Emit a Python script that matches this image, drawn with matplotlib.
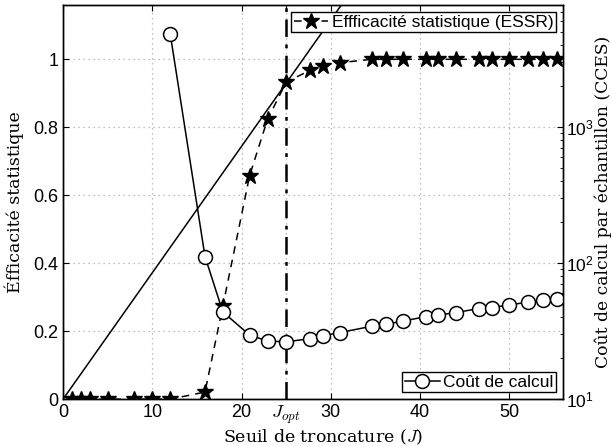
import numpy as np
import matplotlib.pyplot as plt

plt.rcParams['mathtext.fontset'] = 'cm'
plt.rcParams['font.family'] = ['Liberation Sans', 'DejaVu Sans']

# seuils de troncature
J_ess = [1, 2, 3, 5, 8, 10, 12, 15.9, 17.9, 20.9, 22.9, 25, 27.7, 29.1, 31,
         34.6, 36.2, 38.1, 40.7, 42, 44, 46.6, 48, 50, 52.1, 53.8, 55.3]
essr = [0.0, 0.0, 0.0, 0.0, 0.0, 0.0, 0.0, 0.021, 0.274, 0.658, 0.823, 0.933,
        0.968, 0.98, 0.99, 1.0, 1.0, 1.0, 1.0, 1.0, 1.0, 1.0, 1.0, 1.0, 1.0,
        1.0, 1.0]

J_cout = [12, 15.9, 17.9, 20.9, 22.9, 25, 27.7, 29.1, 31, 34.6, 36.2, 38.1,
          40.7, 42, 44, 46.6, 48, 50, 52.1, 53.8, 55.3]
cces = [4887, 112, 43.8, 29.6, 26.8, 26.4, 27.9, 29.2, 30.9, 34.4, 35.6, 37.6,
        40.5, 41.5, 43.4, 46.4, 47.2, 49.4, 51.7, 53.2, 54.3]

# droite de reference
J_ref = [0, 31.5]
ref = [0, 1.172]

J_opt = 25

fig = plt.figure(figsize=(6.12, 4.46), dpi=100)
ax = fig.add_axes([0.103, 0.105, 0.817, 0.884])
ax2 = ax.twinx()

ax.plot(J_ref, ref, '-', color='k', lw=1.1)
ax.axvline(J_opt, color='k', lw=1.8, dashes=(7, 3, 1.5, 3))
l1, = ax.plot(J_ess, essr, color='k', lw=1.1, dashes=(5, 4), marker='*',
              ms=12, mfc='k', mec='k', label='Effficacité statistique (ESSR)')

l2, = ax2.plot(J_cout, cces, '-', color='k', lw=1.1, marker='o', ms=10,
               mfc='w', mec='k', mew=1.1, label='Coût de calcul')

ax.set_xlim(0, 56)
ax.set_ylim(0, 1.16)
ax2.set_yscale('log')
ax2.set_ylim(10, 10 ** 3.9)

ax.set_xticks([0, 10, 20, 25, 30, 40, 50])
ax.set_xticklabels(['0', '10', '20', r'$J_{opt}$', '30', '40', '50'])
ax.set_yticks([0, 0.2, 0.4, 0.6, 0.8, 1.0])
ax.set_yticklabels(['0', '0.2', '0.4', '0.6', '0.8', '1'])
ax.grid(True, color='#aaaaaa', lw=0.9, dashes=(1, 3))

ax.tick_params(direction='in', labelsize=13, top=True, right=False, length=4)
ax.get_xticklabels()[3].set_fontsize(13.5)
ax2.tick_params(which='both', direction='in', labelsize=12.5, length=4, pad=2)
ax2.tick_params(which='minor', length=2.5)

ax.set_xlabel(r'Seuil de troncature ($J$)', family='DejaVu Serif',
              fontsize=12.5)
ax.xaxis.set_label_coords(0.52, -0.073)
ax.set_ylabel('Éfficacité statistique', family='DejaVu Serif', fontsize=12.5)
ax.yaxis.set_label_coords(-0.078, 0.5)
ax2.set_ylabel('Coût de calcul par échantillon (CCES)', family='DejaVu Serif',
               fontsize=12.3)
ax2.yaxis.set_label_coords(1.063, 0.5)

leg1 = ax.legend(handles=[l1], loc='upper right', fontsize=12.5,
                 handlelength=2.0, handletextpad=0.2, borderpad=0.15,
                 borderaxespad=0.4, fancybox=False, framealpha=1,
                 edgecolor='k')
leg1.get_frame().set_linewidth(1.0)
leg2 = ax2.legend(handles=[l2], loc='lower right', fontsize=12.5,
                  handlelength=2.0, handletextpad=0.2, borderpad=0.15,
                  borderaxespad=0.4, fancybox=False, framealpha=1,
                  edgecolor='k')
leg2.get_frame().set_linewidth(1.0)

for a in (ax, ax2):
    for s in a.spines.values():
        s.set_linewidth(1.0)

fig.savefig('out.png', dpi=100)
